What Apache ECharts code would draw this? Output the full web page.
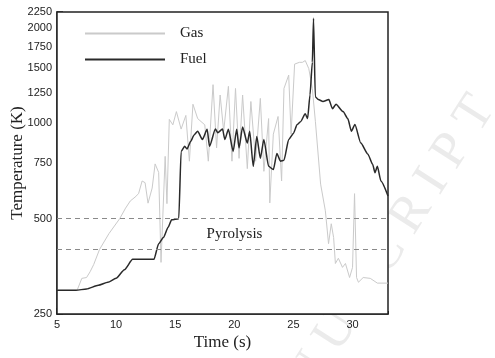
<!DOCTYPE html>
<html>
<head>
<meta charset="utf-8">
<script src="https://cdn.jsdelivr.net/npm/echarts@6/dist/echarts.min.js"></script>
<style>
  html, body { margin: 0; padding: 0; background: #fff; }
  #chart { width: 495px; height: 358px; }
</style>
</head>
<body>
<div id="chart"></div>
<script>
// [time (s), temperature (K)]
const gasData = [
  [5, 297], [6.7, 297], [7.1, 324], [7.5, 326], [7.8, 340], [8.1, 358], [8.6, 400], [9.4, 449],
  [10.3, 500], [10.8, 540], [11.2, 569], [11.6, 585], [11.9, 600], [12.2, 658], [12.45, 650],
  [12.7, 560], [13.05, 625], [13.3, 745], [13.6, 700], [13.8, 364], [14.15, 787], [14.3, 558],
  [14.5, 1030], [14.8, 990], [15.1, 1090], [15.5, 960], [15.9, 1060], [16.2, 760], [16.5, 1150],
  [16.9, 1036], [17.5, 990], [17.8, 760], [18.2, 1326], [18.5, 837], [18.8, 1230], [19.1, 945],
  [19.5, 1310], [19.8, 760], [20.1, 1290], [20.4, 776], [20.7, 1230], [21.1, 720], [21.4, 1173],
  [21.8, 760], [22.2, 1200], [22.5, 706], [22.9, 1036], [23.0, 561], [23.3, 925], [23.7, 1052],
  [24.0, 658], [24.2, 1290], [24.6, 1422], [24.8, 925], [25.1, 1540], [25.5, 1560], [25.76, 1560],
  [26.0, 1580], [26.3, 1490], [26.6, 1290], [26.86, 1013], [27.3, 643], [27.7, 530], [27.97, 417],
  [28.2, 482], [28.4, 436], [28.55, 361], [28.8, 375], [29.15, 351], [29.4, 361], [29.75, 326],
  [30.0, 351], [30.17, 600], [30.34, 326], [30.5, 315], [30.9, 326], [31.5, 324], [32.1, 313], [33, 313]
];
const fuelData = [
  [5, 297], [6.6, 297], [7.5, 300], [8.5, 308], [9.3, 315], [10, 324], [10.7, 345], [11.4, 372],
  [13.2, 372], [13.6, 417], [14.0, 436], [14.4, 470], [14.7, 496], [15.3, 500], [15.5, 816],
  [15.8, 847], [16.0, 830], [16.3, 877], [16.6, 920], [16.9, 945], [17.3, 890], [17.7, 958],
  [17.9, 847], [18.4, 960], [18.6, 935], [19.0, 960], [19.2, 890], [19.5, 958], [19.9, 816],
  [20.2, 958], [20.4, 837], [20.7, 975], [21.1, 867], [21.3, 945], [21.6, 732], [21.9, 910],
  [22.2, 776], [22.5, 890], [22.9, 732], [23.3, 715], [23.6, 804], [23.9, 760], [24.2, 765],
  [24.6, 890], [25.0, 930], [25.3, 990], [25.6, 1013], [26.0, 1073], [26.2, 1036], [26.4, 1230],
  [26.6, 1560], [26.7, 2150], [26.85, 1215], [27.1, 1190], [27.5, 1173], [28.0, 1190], [28.3, 1113],
  [28.6, 1150], [29.2, 1090], [29.6, 1036], [29.9, 945], [30.2, 992], [30.7, 867], [31.3, 800],
  [31.7, 743], [31.9, 699], [32.1, 732], [32.4, 658], [33, 590]
];
const pyrolysisBand = [400, 500];

const yLabels = [250, 500, 750, 1000, 1250, 1500, 1750, 2000, 2250];
const xLabels = [5, 10, 15, 20, 25, 30];

const yMinor = [];
for (let v = 250; v <= 2250; v += 50) yMinor.push(v);
const xMinor = [];
for (let v = 5; v <= 33; v += 1) xMinor.push(v);

const serif = "'Liberation Serif', 'DejaVu Serif', serif";
const sans = "'Liberation Sans', Arial, sans-serif";

const chart = echarts.init(document.getElementById("chart"));

const option = {
  animation: false,
  backgroundColor: "#fff",
  grid: {
    left: 57, top: 12, right: 107, bottom: 44,
    outerBoundsMode: "none",
    show: true, backgroundColor: "#fff", borderColor: "#222", borderWidth: 1.5, z: 1
  },
  graphic: [{
    type: "text",
    z: -10,
    silent: true,
    x: 484, y: 101,
    rotation: 1.0,
    style: {
      text: "A C C E P T E D   M A N U S C R I P T",
      font: "52px " + serif,
      fill: "#ebebeb",
      align: "right",
      verticalAlign: "middle"
    }
  }],
  legend: {
    orient: "vertical",
    left: 80,
    top: 21,
    icon: "rect",
    itemWidth: 80,
    itemHeight: 2,
    itemGap: 11,
    data: ["Gas", "Fuel"],
    textStyle: { fontFamily: serif, fontSize: 15, color: "#222", padding: [0, 0, 0, 10] }
  },
  xAxis: [{
    type: "value",
    min: 5, max: 33,
    name: "Time (s)",
    nameLocation: "middle",
    nameGap: 20,
    nameMoveOverlap: false,
    nameTextStyle: { fontFamily: serif, fontSize: 17, color: "#222" },
    axisLine: { lineStyle: { color: "#222", width: 1.5 } },
    axisTick: { inside: true, length: 6, customValues: xLabels, lineStyle: { color: "#222", width: 1.5 } },
    axisLabel: { customValues: xLabels, fontFamily: sans, fontSize: 11, color: "#222", margin: 5 },
    splitLine: { show: false }
  }, {
    type: "value",
    min: 5, max: 33,
    position: "bottom",
    axisLine: { show: false },
    axisTick: { inside: true, length: 3, customValues: xMinor, lineStyle: { color: "#222" } },
    axisLabel: { show: false },
    splitLine: { show: false }
  }],
  yAxis: [{
    type: "log",
    logBase: 10,
    min: 250, max: 2250,
    name: "Temperature (K)",
    nameLocation: "middle",
    nameGap: 31,
    nameMoveOverlap: false,
    nameTextStyle: { fontFamily: serif, fontSize: 17, color: "#222" },
    axisLine: { lineStyle: { color: "#222", width: 1.5 } },
    axisTick: { inside: true, length: 6, customValues: yLabels, lineStyle: { color: "#222", width: 1.5 } },
    axisLabel: {
      customValues: yLabels, fontFamily: sans, fontSize: 11, color: "#222", margin: 5,
      formatter: v => String(Math.round(v))
    },
    splitLine: { show: false }
  }, {
    type: "log",
    logBase: 10,
    min: 250, max: 2250,
    position: "left",
    axisLine: { show: false },
    axisTick: { inside: true, length: 3, customValues: yMinor, lineStyle: { color: "#222" } },
    axisLabel: { show: false },
    splitLine: { show: false }
  }],
  series: [{
    name: "Gas",
    type: "line",
    symbol: "none",
    data: gasData,
    lineStyle: { color: "#cacaca", width: 1 },
    itemStyle: { color: "#cacaca" },
    z: 3,
    markLine: {
      silent: true,
      symbol: "none",
      label: { show: false },
      lineStyle: { color: "#8a8a8a", type: [5, 4], width: 1 },
      data: pyrolysisBand.map(v => ({ yAxis: v }))
    },
    markArea: {
      silent: true,
      itemStyle: { color: "rgba(0,0,0,0)" },
      label: {
        show: true, position: "inside", offset: [12, 0],
        fontFamily: serif, fontSize: 15, color: "#222"
      },
      data: [[{ name: "Pyrolysis", yAxis: pyrolysisBand[0] }, { yAxis: pyrolysisBand[1] }]]
    }
  }, {
    name: "Fuel",
    type: "line",
    symbol: "none",
    smooth: 0.2,
    smoothMonotone: "x",
    data: fuelData,
    lineStyle: { color: "#2a2a2a", width: 1.5 },
    itemStyle: { color: "#2a2a2a" },
    z: 4
  }]
};
chart.setOption(option);
</script>
</body>
</html>
